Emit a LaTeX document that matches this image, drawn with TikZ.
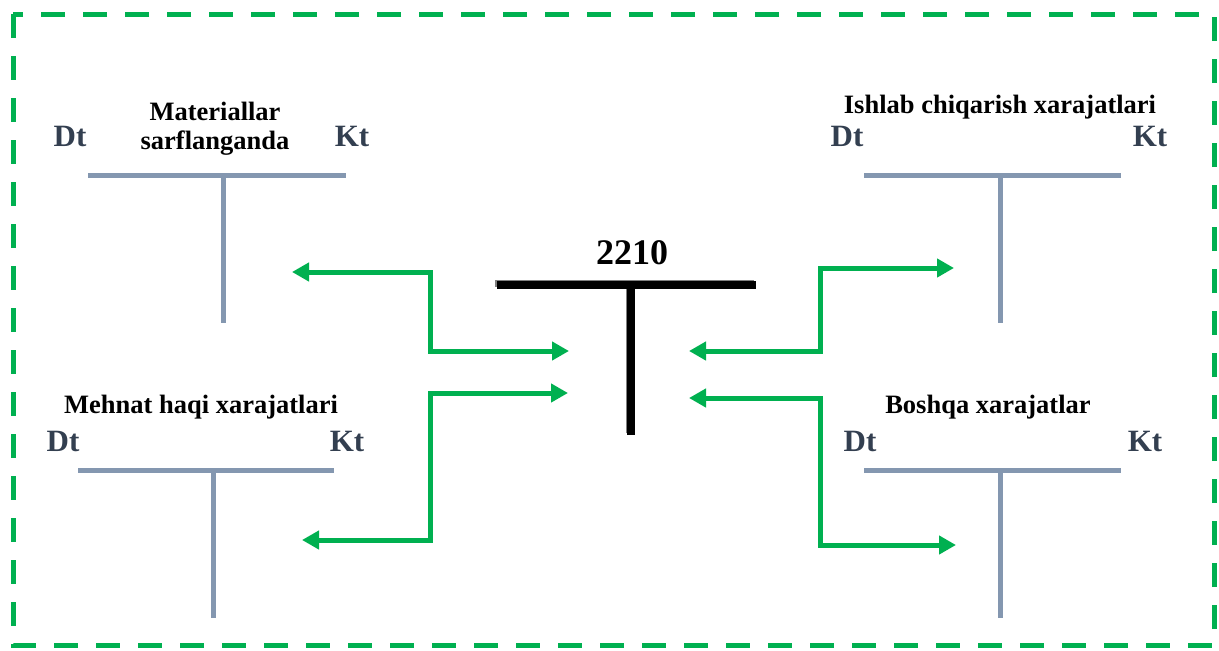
\documentclass[tikz,border=0pt]{standalone}
\usepackage{fontspec}
\setmainfont{Liberation Serif}
\usetikzlibrary{arrows.meta, positioning}

\definecolor{acctgray}{HTML}{8497B0}
\definecolor{sidetext}{HTML}{333F50}
\definecolor{flowgreen}{HTML}{00B050}

\tikzset{
  acct/.style={line width=5pt, acctgray},
  side/.style={inner sep=0pt, anchor=base, text=sidetext, font=\fontsize{31}{34}\selectfont\bfseries},
  accttitle/.style={inner sep=0pt, anchor=base, align=center, font=\fontsize{26.5}{29}\selectfont\bfseries},
  flow/.style={line width=5pt, flowgreen,
    {Triangle[length=17pt,width=18pt]}-{Triangle[length=17pt,width=18pt]}},
}

\begin{document}
\begin{tikzpicture}[x=1pt, y=-1pt]
    \useasboundingbox (0,0) rectangle (1219,651);

    % Outer dashed frame
    \draw[flowgreen, line width=5pt, dash pattern=on 24pt off 18pt] (13,14) rectangle (1214,645);

    % Account 2210 in the middle
    \coordinate (mainL) at (497,285);
    \coordinate (mainR) at (756,285);
    \coordinate (mainT) at (631,285);
    \coordinate (mainB) at (631,435);
    \draw[gray, line width=7pt] ([shift={(-2,-2)}]mainL) -- ([shift={(-2,-2)}]mainR);
    \draw[gray, line width=7pt] ([shift={(-2,-2)}]mainT) -- ([shift={(-2,-2)}]mainB);
    \draw[black, line width=8pt] (mainL) -- (mainR);
    \draw[black, line width=8pt] (mainT) -- (mainB);
    \node[inner sep=0pt, anchor=base, font=\fontsize{36}{40}\selectfont\bfseries] (main) at (632,264) {2210};

    % Top left account
    \draw[acct] (88,175) -- (346,175);
    \draw[acct] (223,175) -- (223,323);
    \node[side] (dt1) at (70,146) {Dt};
    \node[side] (kt1) at (352,146) {Kt};
    \node[accttitle] (t1) at (215,149) {Materiallar\\sarflanganda};

    % Top right account
    \draw[acct] (864,175) -- (1121,175);
    \draw[acct] (1000,175) -- (1000,323);
    \node[side] (dt2) at (847,146) {Dt};
    \node[side] (kt2) at (1150,146) {Kt};
    \node[accttitle] (t2) at (1000,113) {Ishlab chiqarish xarajatlari};

    % Bottom left account
    \draw[acct] (78,470) -- (334,470);
    \draw[acct] (213,470) -- (213,618);
    \node[side] (dt3) at (63,451) {Dt};
    \node[side] (kt3) at (347,451) {Kt};
    \node[accttitle] (t3) at (201,413) {Mehnat haqi xarajatlari};

    % Bottom right account
    \draw[acct] (864,470) -- (1121,470);
    \draw[acct] (1000,470) -- (1000,618);
    \node[side] (dt4) at (860,451) {Dt};
    \node[side] (kt4) at (1145,451) {Kt};
    \node[accttitle] (t4) at (988,413) {Boshqa xarajatlar};

    % Arrow ends
    \coordinate (a1) at (292,272);
    \coordinate (b1) at (569,351);
    \coordinate (a2) at (302,540);
    \coordinate (b2) at (568,393);
    \coordinate (a3) at (954,268);
    \coordinate (b3) at (689,351);
    \coordinate (a4) at (956,545);
    \coordinate (b4) at (689,398);

    % Flows between the accounts
    \draw[flow] (a1) -- (430,272) -- (430,351) -- (b1);
    \draw[flow] (a2) -- (430,540) -- (430,393) -- (b2);
    \draw[flow] (b3) -- (820,351) -- (820,268) -- (a3);
    \draw[flow] (b4) -- (820,398) -- (820,545) -- (a4);
\end{tikzpicture}
\end{document}
